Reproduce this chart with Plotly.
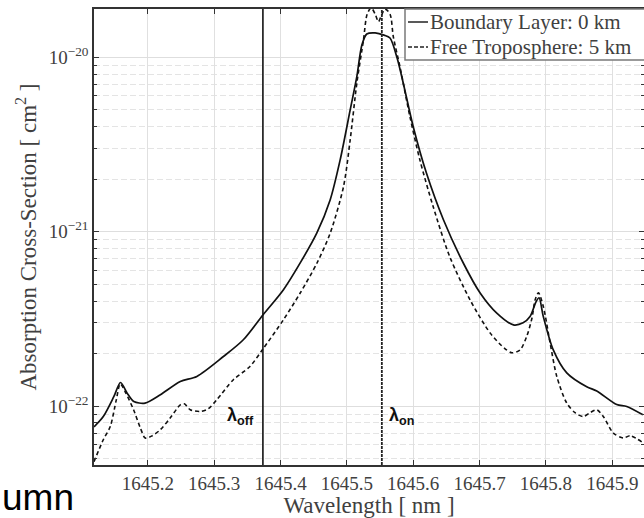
import plotly.graph_objects as go

# Boundary layer (0 km) absorption cross-section, cm^2
wavelength_bl = [1645.119, 1645.133, 1645.149, 1645.159, 1645.169, 1645.179, 1645.196, 1645.219,
                 1645.249, 1645.274, 1645.314, 1645.344, 1645.3735, 1645.4045, 1645.4297, 1645.4548,
                 1645.4748, 1645.4899, 1645.505, 1645.515, 1645.5226, 1645.530, 1645.5426, 1645.556,
                 1645.565, 1645.5757, 1645.585, 1645.600, 1645.620, 1645.6455, 1645.6756, 1645.7008,
                 1645.7259, 1645.7509, 1645.7655, 1645.776, 1645.785, 1645.7896, 1645.796, 1645.811,
                 1645.8313, 1645.8614, 1645.8765, 1645.9066, 1645.9217, 1645.946]
sigma_bl = [7.60e-23, 8.71e-23, 1.135e-22, 1.365e-22, 1.186e-22, 1.062e-22, 1.040e-22, 1.161e-22,
            1.384e-22, 1.479e-22, 1.923e-22, 2.40e-22, 3.33e-22, 4.65e-22, 6.62e-22, 9.84e-22,
            1.52e-21, 2.58e-21, 4.99e-21, 7.74e-21, 1.175e-20, 1.36e-20, 1.38e-20, 1.34e-20,
            1.29e-20, 9.91e-21, 7.10e-21, 4.00e-21, 2.16e-21, 1.17e-21, 6.59e-22, 4.45e-22,
            3.41e-22, 2.92e-22, 3.00e-22, 3.26e-22, 3.96e-22, 4.18e-22, 3.26e-22, 2.10e-22,
            1.55e-22, 1.29e-22, 1.22e-22, 1.02e-22, 9.95e-23, 8.91e-23]

# Free troposphere (5 km) absorption cross-section, cm^2
wavelength_ft = [1645.119, 1645.133, 1645.1435, 1645.1526, 1645.1586, 1645.166, 1645.1786, 1645.1887,
                 1645.1962, 1645.2068, 1645.2188, 1645.234, 1645.249, 1645.255, 1645.264, 1645.279,
                 1645.291, 1645.304, 1645.329, 1645.354, 1645.3735, 1645.4045, 1645.4297, 1645.4548,
                 1645.4748, 1645.4949, 1645.505, 1645.515, 1645.525, 1645.5306, 1645.5366, 1645.5426,
                 1645.5476, 1645.5517, 1645.5575, 1645.565, 1645.570, 1645.580, 1645.595, 1645.610,
                 1645.630, 1645.655, 1645.6857, 1645.716, 1645.7384, 1645.749, 1645.761, 1645.771,
                 1645.779, 1645.7836, 1645.7886, 1645.796, 1645.8062, 1645.8163, 1645.8313, 1645.8438,
                 1645.8563, 1645.8664, 1645.8765, 1645.8864, 1645.9015, 1645.9166, 1645.927, 1645.946]
sigma_ft = [4.80e-23, 6.41e-23, 7.64e-23, 1.086e-22, 1.343e-22, 1.208e-22, 9.53e-23, 7.52e-23,
            6.56e-23, 6.76e-23, 7.31e-23, 8.57e-23, 1.016e-22, 1.030e-22, 9.53e-23, 9.31e-23,
            9.64e-23, 1.086e-22, 1.416e-22, 1.687e-22, 2.123e-22, 3.126e-22, 4.45e-22, 6.59e-22,
            9.79e-22, 1.81e-21, 3.36e-21, 7.10e-21, 1.256e-20, 1.77e-20, 1.92e-20, 1.77e-20,
            1.60e-20, 1.726e-20, 1.89e-20, 1.77e-20, 1.312e-20, 8.83e-21, 4.57e-21, 2.58e-21,
            1.393e-21, 7.19e-22, 4.06e-22, 2.62e-22, 2.13e-22, 2.02e-22, 2.10e-22, 2.51e-22,
            3.21e-22, 4.06e-22, 4.46e-22, 3.72e-22, 2.30e-22, 1.479e-22, 1.040e-22, 9.16e-23,
            8.71e-23, 9.16e-23, 9.53e-23, 8.71e-23, 7.00e-23, 6.56e-23, 6.76e-23, 6.17e-23]

# Online / offline lidar wavelengths, nm
LAMBDA_OFF = 1645.3735
LAMBDA_ON = 1645.5527

x_ticks = [1645.2, 1645.3, 1645.4, 1645.5, 1645.6, 1645.7, 1645.8, 1645.9]
x_tick_labels = ["1645.2", "1645.3", "1645.4", "1645.5", "1645.6", "1645.7", "1645.8", "1645.9"]
y_ticks = [1e-22, 1e-21, 1e-20]
y_tick_labels = ["10<sup>\u221222</sup>", "10<sup>\u221221</sup>", "10<sup>\u221220</sup>"]
y_minor = [m * 10.0 ** e for e in (-23, -22, -21, -20) for m in range(2, 10)]

legend_labels = ["Boundary Layer: 0 km", "Free Troposphere: 5 km"]

# ---- page geometry (pixels) ----
W, H = 644, 518
ML, MR, MT, MB = 94, 0, 9, 53
PW, PH = W - ML - MR, H - MT - MB


def px(x):
    return (x - ML) / PW


def py(y):
    return (H - MB - y) / PH


SERIF = "Liberation Serif"
TXT = "#404040"

fig = go.Figure()
fig.add_trace(go.Scatter(
    x=wavelength_bl, y=sigma_bl, mode="lines", name=legend_labels[0], showlegend=False,
    line=dict(color="#111111", width=1.7, shape="spline", smoothing=0.8),
))
fig.add_trace(go.Scatter(
    x=wavelength_ft, y=sigma_ft, mode="lines", name=legend_labels[1], showlegend=False,
    line=dict(color="#111111", width=1.6, dash="4px,3px", shape="spline", smoothing=0.8),
))

# lidar wavelength markers
fig.add_shape(type="line", xref="x", yref="paper", x0=LAMBDA_OFF, x1=LAMBDA_OFF, y0=0, y1=1,
              line=dict(color="#111111", width=1.6))
fig.add_shape(type="line", xref="x", yref="paper", x0=LAMBDA_ON, x1=LAMBDA_ON, y0=0, y1=1,
              line=dict(color="#222222", width=1.8, dash="3px,1px"))

fig.add_annotation(x=LAMBDA_OFF, xref="x", xshift=-7, xanchor="right",
                   y=py(416), yref="paper", yanchor="middle", showarrow=False,
                   text="<b>\u03bb<sub>off</sub></b>",
                   font=dict(family="Liberation Sans", size=18, color="#111111"))
fig.add_annotation(x=LAMBDA_ON, xref="x", xshift=5, xanchor="left",
                   y=py(416), yref="paper", yanchor="middle", showarrow=False,
                   text="<b>\u03bb<sub>on</sub></b>",
                   font=dict(family="Liberation Sans", size=18, color="#111111"))

# legend box
fig.add_shape(type="rect", xref="paper", yref="paper", x0=px(405), x1=px(700), y0=py(60), y1=py(9),
              line=dict(color="#7a7a7a", width=1.5), fillcolor="white", layer="above")
for row_y, dash, label in [(22, "solid", legend_labels[0]), (47, "4px,2px", legend_labels[1])]:
    fig.add_shape(type="line", xref="paper", yref="paper", x0=px(408), x1=px(428),
                  y0=py(row_y), y1=py(row_y), line=dict(color="#222222", width=1.5, dash=dash),
                  layer="above")
    fig.add_annotation(x=px(428), xref="paper", xanchor="left", y=py(row_y), yref="paper",
                       yanchor="middle", showarrow=False, text=label,
                       font=dict(family=SERIF, size=21, color=TXT))

# fragment of surrounding page text
fig.add_annotation(x=px(0), xref="paper", xanchor="left", y=py(497), yref="paper",
                   yanchor="middle", showarrow=False, text="umn",
                   font=dict(family="Liberation Sans", size=37, color="#000000"))

fig.update_layout(
    width=W, height=H,
    margin=dict(l=ML, r=MR, t=MT, b=MB, autoexpand=False),
    paper_bgcolor="white", plot_bgcolor="white",
    showlegend=False,
    xaxis=dict(
        range=[1645.119, 1645.9477], tickvals=x_ticks, ticktext=x_tick_labels,
        ticks="inside", ticklen=5, tickwidth=1, tickcolor="#333333",
        showline=True, linecolor="#333333", linewidth=1.5, mirror="ticks",
        showgrid=True, gridcolor="#e0e0e0", gridwidth=1, zeroline=False,
        tickfont=dict(family=SERIF, size=19, color=TXT),
        title=dict(text="Wavelength [ nm ]", font=dict(family=SERIF, size=23, color=TXT), standoff=4),
    ),
    yaxis=dict(
        type="log", range=[-22.338, -19.723], tickvals=y_ticks, ticktext=y_tick_labels,
        ticks="inside", ticklen=5, tickwidth=1, tickcolor="#333333",
        showline=True, linecolor="#333333", linewidth=1.5, mirror="ticks",
        showgrid=True, gridcolor="#dedede", gridwidth=1, zeroline=False,
        tickfont=dict(family=SERIF, size=19, color=TXT),
        minor=dict(tickvals=y_minor, ticks="inside", ticklen=3, tickcolor="#333333",
                   showgrid=True, gridcolor="#e4e4e4", griddash="6px,3px", gridwidth=1),
        title=dict(text="Absorption Cross-Section [ cm<sup>2</sup> ]",
                   font=dict(family=SERIF, size=23, color=TXT), standoff=6),
    ),
)

fig.write_html("out.html")
